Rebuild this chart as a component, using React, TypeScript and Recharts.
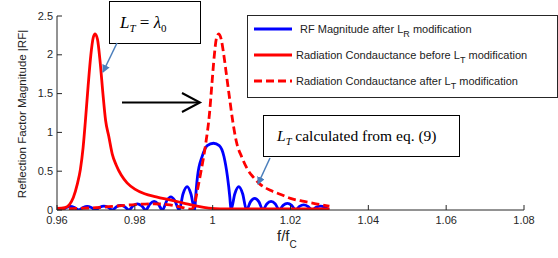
import React from 'react';
import { LineChart, Line, XAxis, YAxis, Legend } from 'recharts';

// ---------- axis ticks ----------
const xTicks = [0.96, 0.98, 1.0, 1.02, 1.04, 1.06, 1.08];
const xTickLabels = ['0.96', '0.98', '1', '1.02', '1.04', '1.06', '1.08'];
const yTicks = [0, 0.5, 1, 1.5, 2, 2.5];
const yTickLabels = ['0', '0.5', '1', '1.5', '2', '2.5'];

// ---------- series: RF magnitude after L_R modification (blue) ----------
const rfFreq = [
  0.96, 0.9613,
  0.9624, 0.96345, 0.9645, 0.9656,
  0.9667, 0.96775, 0.9688, 0.9699,
  0.971, 0.97205, 0.9731, 0.9742,
  0.9753, 0.97635, 0.9774, 0.9785,
  0.9796, 0.98065, 0.9817, 0.9828,
  0.9839, 0.98495, 0.986, 0.9871,
  0.9882, 0.98925, 0.9903, 0.9914,
  0.9924, 0.99345, 0.9944, 0.9954,
  0.9956, 0.9961, 0.9973, 0.9986, 1.0002, 1.0017, 1.0029, 1.0038, 1.0044, 1.0047,
  1.0057, 1.0067, 1.0077, 1.0087,
  1.0097, 1.0108, 1.0119, 1.0129,
  1.0139, 1.015, 1.0161, 1.0171,
  1.0181, 1.0192, 1.0203, 1.0213,
  1.0223, 1.0234, 1.0245, 1.0256,
  1.0266, 1.0277, 1.0288, 1.0299,
];
const rfMag = [
  0.025, 0,
  0.032, 0.045, 0.032, 0,
  0.032, 0.045, 0.032, 0,
  0.036, 0.05, 0.036, 0,
  0.043, 0.06, 0.043, 0,
  0.057, 0.08, 0.057, 0,
  0.078, 0.11, 0.078, 0,
  0.12, 0.17, 0.12, 0,
  0.21, 0.3, 0.21, 0,
  0.15, 0.43, 0.69, 0.83, 0.86, 0.83, 0.69, 0.43, 0.17, 0,
  0.21, 0.3, 0.21, 0,
  0.105, 0.15, 0.105, 0,
  0.078, 0.11, 0.078, 0,
  0.06, 0.085, 0.06, 0,
  0.046, 0.065, 0.046, 0,
  0.035, 0.05, 0.035, 0,
];

// ---------- series: radiation conductance before L_T modification (red solid) ----------
const beforeFreq = [
  0.96, 0.962, 0.9632, 0.9642, 0.9652, 0.966, 0.9667, 0.9673, 0.968, 0.9687,
  0.9693, 0.9698, 0.9704, 0.9711, 0.9718, 0.9725, 0.9733, 0.9742, 0.9752, 0.9765,
  0.978, 0.98, 0.9825, 0.9855, 0.989, 0.9925, 0.996, 0.999, 1.002, 1.01,
  1.02, 1.03,
];
const beforeVal = [
  0.02, 0.03, 0.07, 0.16, 0.33, 0.52, 0.8, 1.15, 1.6, 2.0,
  2.22, 2.27, 2.2, 1.9, 1.5, 1.15, 0.95, 0.72, 0.58, 0.45,
  0.35, 0.27, 0.21, 0.17, 0.13, 0.09, 0.05, 0.025, 0.015, 0.015,
  0.015, 0.015,
];

// ---------- series: radiation conductance after L_T modification (red dashed) ----------
const afterFreq = [
  0.96, 0.965, 0.97, 0.975, 0.98, 0.985, 0.989, 0.992, 0.9945, 0.9952,
  0.9961, 0.9969, 0.9982, 0.9992, 0.9998, 1.0004, 1.001, 1.0016, 1.0022, 1.0028,
  1.0036, 1.0044, 1.0052, 1.0061, 1.0075, 1.009, 1.0105, 1.012, 1.015, 1.0175,
  1.02, 1.0235, 1.0265, 1.03,
];
const afterVal = [
  0.01, 0.02, 0.03, 0.05, 0.07, 0.08, 0.065, 0.035, 0.01, 0.05,
  0.26, 0.47, 0.85, 1.25, 1.62, 1.98, 2.22, 2.27, 2.2, 2.02,
  1.72, 1.42, 1.13, 0.88, 0.68, 0.52, 0.42, 0.34, 0.25, 0.2,
  0.15, 0.11, 0.08, 0.05,
];

// legend labels: [main, subscript, rest]
const legendLabels: [string, string, string][] = [
  ['RF Magnitude after L', 'R', ' modification'],
  ['Radiation Condauctance before L', 'T', ' modification'],
  ['Radiation Condauctance after L', 'T', ' modification'],
];

const toPoints = (fs: number[], vs: number[]) => fs.map((f, i) => ({ f, v: vs[i] }));
const rfData = toPoints(rfFreq, rfMag);
const beforeData = toPoints(beforeFreq, beforeVal);
const afterData = toPoints(afterFreq, afterVal);

const SANS = "'Liberation Sans', Arial, sans-serif";
const SERIF = "'Liberation Serif', 'Times New Roman', serif";
const AXIS = '#262626';

const YTick = (props: any) => {
  const { x, y, payload } = props;
  const ax = x + 5;
  const idx = yTicks.indexOf(payload.value);
  return (
    <g>
      <line x1={ax} x2={ax + 5} y1={y} y2={y} stroke={AXIS} strokeWidth={1} />
      <text x={ax - 4} y={y + 3.5} textAnchor="end" fontSize={11} fill={AXIS} fontFamily={SANS}>
        {yTickLabels[idx]}
      </text>
    </g>
  );
};

const XTick = (props: any) => {
  const { x, y, payload } = props;
  const ay = y - 4;
  const idx = xTicks.findIndex((t) => Math.abs(t - payload.value) < 1e-9);
  return (
    <g>
      <line x1={x} x2={x} y1={ay} y2={ay - 5} stroke={AXIS} strokeWidth={1} />
      <text x={x} y={ay + 13.5} textAnchor="middle" fontSize={11} fill={AXIS} fontFamily={SANS}>
        {xTickLabels[idx]}
      </text>
    </g>
  );
};

const LegendBox = () => {
  const rows = [
    { color: '#0000ff', dash: undefined as string | undefined, tx: 53 },
    { color: '#ff0000', dash: undefined as string | undefined, tx: 49 },
    { color: '#ff0000', dash: '8 4', tx: 49 },
  ];
  return (
    <svg width={311} height={83} style={{ display: 'block' }}>
      <rect x={0.5} y={0.5} width={310} height={82} fill="#ffffff" stroke={AXIS} strokeWidth={1} />
      {rows.map((r, i) => {
        const cy = 14 + i * 26;
        const lab = legendLabels[i];
        return (
          <g key={i}>
            <line x1={7} x2={45} y1={cy} y2={cy} stroke={r.color} strokeWidth={3} strokeDasharray={r.dash} />
            <text x={r.tx} y={cy + 4} fontSize={11} fill="#222" fontFamily={SANS}>
              {lab[0]}
              <tspan fontSize={9} dy={4}>{lab[1]}</tspan>
              <tspan dy={-4}>{lab[2]}</tspan>
            </text>
          </g>
        );
      })}
    </svg>
  );
};

const Overlay = () => (
  <svg
    width={558}
    height={258}
    style={{ position: 'absolute', left: 0, top: 0, pointerEvents: 'none' }}
  >
    <defs>
      <marker id="blueHead" markerWidth="8" markerHeight="8" refX="7" refY="4" orient="auto" markerUnits="userSpaceOnUse">
        <path d="M0,0 L8,4 L0,8 Z" fill="#4a7ebb" />
      </marker>
    </defs>
    {/* y axis label */}
    <text
      transform="translate(26,114) rotate(-90)"
      textAnchor="middle"
      fontSize={11.5}
      fill="#222"
      fontFamily={SANS}
    >
      Reflection Factor Magnitude |RF|
    </text>
    {/* x axis label */}
    <text x={277} y={241} fontSize={15} fill="#222" fontFamily={SANS}>
      f/f<tspan fontSize={10} dy={7}>C</tspan>
    </text>

    {/* box 1 */}
    <rect x={109.5} y={1.5} width={91} height={42} fill="#ffffff" stroke="#000" strokeWidth={1} />
    <text x={120} y={28} fontSize={17} fill="#000" fontFamily={SERIF} fontStyle="italic">
      L<tspan fontSize={11} dy={4}>T</tspan>
      <tspan dy={-4} fontStyle="normal"> = </tspan>
      λ<tspan fontSize={11} dy={4} fontStyle="normal">0</tspan>
    </text>
    <line x1={117} y1={43} x2={103} y2={72} stroke="#4a7ebb" strokeWidth={1.5} markerEnd="url(#blueHead)" />

    {/* black arrow */}
    <line x1={122} y1={102.5} x2={199} y2={102.5} stroke="#000" strokeWidth={2} />
    <polyline points="182,93 200,102.5 182,112" fill="none" stroke="#000" strokeWidth={2} />

    {/* box 2 */}
    <rect x={263.5} y={115.5} width={196} height={41} fill="#ffffff" stroke="#000" strokeWidth={1} />
    <text x={277} y={141} fontSize={15.5} fill="#000" fontFamily={SERIF}>
      <tspan fontStyle="italic">L</tspan>
      <tspan fontSize={10.5} dy={4} fontStyle="italic">T</tspan>
      <tspan dy={-4}> calculated from eq. (9)</tspan>
    </text>
    <line x1={270} y1={158} x2={258} y2={184} stroke="#4a7ebb" strokeWidth={1.5} markerEnd="url(#blueHead)" />
  </svg>
);

export default function App() {
  return (
    <div style={{ position: 'absolute', left: 0, top: 0, width: 558, height: 258, background: '#fff' }}>
      <LineChart width={558} height={258} margin={{ top: 16, right: 34, bottom: 0, left: 0 }}>
        <XAxis
          type="number"
          dataKey="f"
          domain={[0.96, 1.08]}
          ticks={xTicks}
          allowDataOverflow
          height={48}
          tickSize={0}
          tickMargin={4}
          tickLine={false}
          axisLine={{ stroke: AXIS }}
          tick={<XTick />}
          interval={0}
        />
        <YAxis
          type="number"
          dataKey="v"
          domain={[0, 2.5]}
          ticks={yTicks}
          allowDataOverflow
          width={57}
          tickSize={0}
          tickMargin={5}
          tickLine={false}
          axisLine={{ stroke: AXIS }}
          tick={<YTick />}
          interval={0}
        />
        <Legend
          layout="horizontal"
          verticalAlign="middle"
          align="center"
          width={311}
          height={83}
          wrapperStyle={{ left: 247, top: 15, width: 311, height: 83 }}
          content={() => <LegendBox />}
        />
        <Line
          data={rfData}
          dataKey="v"
          type="monotone"
          stroke="#0000ff"
          strokeWidth={2.8}
          dot={false}
          activeDot={false}
          isAnimationActive={false}
        />
        <Line
          data={beforeData}
          dataKey="v"
          type="monotone"
          stroke="#ff0000"
          strokeWidth={2.8}
          dot={false}
          activeDot={false}
          isAnimationActive={false}
        />
        <Line
          data={afterData}
          dataKey="v"
          type="monotone"
          stroke="#ff0000"
          strokeWidth={2.8}
          strokeDasharray="8 4"
          dot={false}
          activeDot={false}
          isAnimationActive={false}
        />
      </LineChart>
      <Overlay />
    </div>
  );
}
